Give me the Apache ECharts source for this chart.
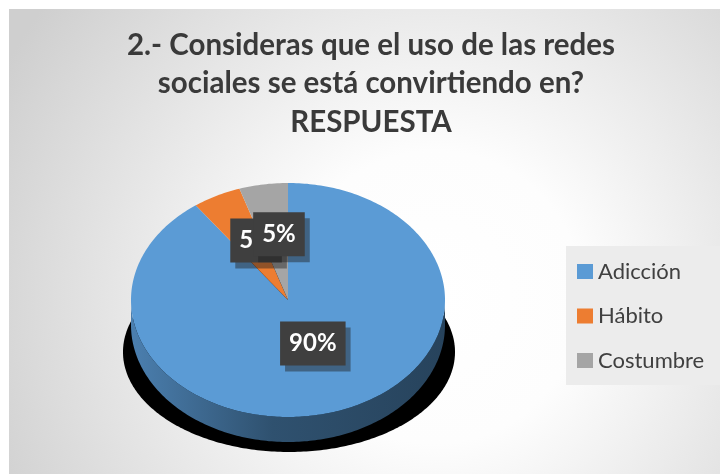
<!DOCTYPE html>
<html>
<head>
<meta charset="utf-8">
<script src="https://cdn.jsdelivr.net/npm/echarts@6/dist/echarts.min.js"></script>
<style>
  html, body { margin: 0; padding: 0; background: #ffffff; }
  #chart { width: 720px; height: 474px; }
</style>
</head>
<body>
<div id="chart"></div>
<script>
// Survey answers and their shares
const categories = ['Adicción', 'Hábito', 'Costumbre'];
const values = [90, 5, 5];
const colors = ['#5B9BD5', '#ED7D31', '#A5A5A5'];
const titleLines = [
  '2.- Consideras que el uso de las redes',
  'sociales se está convirtiendo en?',
  'RESPUESTA'
];

const FONT = 'Lato, "Open Sans", sans-serif';
// Geometry of the tilted (elliptical) pie with a visible rim
const PIE = { cx: 288, cy: 300, rx: 157, ry: 117, depth: 25 };

const total = values.reduce((a, b) => a + b, 0);
const starts = [];
values.reduce((acc, v) => { starts.push(acc); return acc + v; }, 0);

// darken a hex colour by a factor (0..1)
function shade(hex, k) {
  const c = echarts.color.parse(hex);
  return 'rgb(' + [0, 1, 2].map(j => Math.round(c[j] * k)).join(',') + ')';
}

// angle measured clockwise from 12 o'clock
function pt(theta, dy) {
  return [PIE.cx + PIE.rx * Math.sin(theta), PIE.cy + (dy || 0) - PIE.ry * Math.cos(theta)];
}
function arc(a, b, dy) {
  const pts = [];
  const n = Math.max(2, Math.ceil((b - a) / (Math.PI / 180)));
  for (let k = 0; k <= n; k++) pts.push(pt(a + (b - a) * k / n, dy));
  return pts;
}
function ellipse(cx, cy, rx, ry) {
  const pts = [];
  for (let k = 0; k < 360; k++) {
    const t = k * Math.PI / 180;
    pts.push([cx + rx * Math.sin(t), cy - ry * Math.cos(t)]);
  }
  return pts;
}

function renderSlice(idx) {
  return function (params, api) {
    const v = api.value(0);
    const a = starts[idx] / total * 2 * Math.PI;
    const b = (starts[idx] + v) / total * 2 * Math.PI;
    const color = colors[idx];
    const children = [];

    if (idx === 0) {
      // drop shadow under the whole pie
      children.push({
        type: 'polygon', z2: 0, silent: true,
        shape: { points: ellipse(PIE.cx + 1, PIE.cy + 52, PIE.rx + 9, PIE.ry - 17) },
        style: { fill: '#000000' }
      });
    }

    // rim: only the front (lower) half of the pie is visible
    const s = Math.max(a, Math.PI / 2), e = Math.min(b, 3 * Math.PI / 2);
    if (e > s) {
      const top = arc(s, e, 0);
      const bot = arc(s, e, PIE.depth).reverse();
      children.push({
        type: 'polygon', z2: 1,
        shape: { points: top.concat(bot) },
        style: {
          fill: new echarts.graphic.LinearGradient(PIE.cx - PIE.rx, 0, PIE.cx + PIE.rx, 0, [
            { offset: 0, color: shade(color, 0.82) },
            { offset: 0.45, color: shade(color, 0.52) },
            { offset: 1, color: shade(color, 0.43) }
          ], true)
        }
      });
    }

    // top face
    children.push({
      type: 'polygon', z2: 2,
      shape: { points: [[PIE.cx, PIE.cy]].concat(arc(a, b, 0)) },
      style: { fill: color }
    });

    // percentage label, placed inside the slice (tilted view shifts it slightly right)
    const share = v / total;
    const mid = (a + b) / 2;
    const big = share > 0.5;
    const fx = big ? 0.45 : 0.49;
    const fy = big ? 0.39 : 0.57;
    const lx = PIE.cx + 3 + PIE.rx * fx * Math.sin(mid);
    const ly = PIE.cy - PIE.ry * fy * Math.cos(mid);
    const text = Math.round(share * 100) + '%';
    const base = {
      text: text,
      font: 'bold 24px ' + FONT,
      lineHeight: 24,
      align: 'center', verticalAlign: 'middle',
      textAlign: 'center', textVerticalAlign: 'middle',
      padding: [10, 9, 10, 9]
    };
    children.push({
      type: 'text', z2: 10 + idx * 2, x: lx + 5, y: ly + 6,
      style: Object.assign({}, base, { fill: 'rgba(0,0,0,0)', backgroundColor: 'rgba(30,30,30,0.45)' })
    });
    children.push({
      type: 'text', z2: 11 + idx * 2, x: lx, y: ly,
      style: Object.assign({}, base, { fill: '#ffffff', backgroundColor: '#3f3f3f' })
    });

    return { type: 'group', children: children };
  };
}

const series = categories.map((name, idx) => ({
  type: 'custom',
  name: name,
  coordinateSystem: 'none',
  itemStyle: { color: colors[idx] },
  data: [values[idx]],
  renderItem: renderSlice(idx)
}));

const chart = echarts.init(document.getElementById('chart'), null, { renderer: 'canvas' });
chart.setOption({
  animation: false,
  graphic: [
    {
      type: 'rect', z: -10, silent: true,
      shape: { x: 9, y: 9, width: 711, height: 465 },
      style: {
        fill: {
          type: 'radial', x: 0.6, y: 0.62, r: 1.05,
          colorStops: [
            { offset: 0, color: '#ffffff' },
            { offset: 0.3, color: '#fdfdfd' },
            { offset: 1, color: '#cfcfcf' }
          ]
        }
      }
    },
    {
      type: 'rect', z: -5, silent: true,
      shape: { x: 566, y: 246, width: 154, height: 139 },
      style: { fill: '#ececec' }
    }
  ],
  title: {
    text: titleLines.join('\n'),
    left: 371,
    top: 26,
    padding: 0,
    textAlign: 'center',
    textStyle: {
      fontFamily: FONT,
      fontSize: 29.5,
      fontWeight: 'bold',
      lineHeight: 38.5,
      color: '#3a3a3a'
    }
  },
  legend: {
    orient: 'vertical',
    left: 577,
    top: 260,
    padding: 0,
    itemGap: 21.5,
    itemWidth: 16,
    itemHeight: 15,
    icon: 'rect',
    data: categories,
    textStyle: { fontFamily: FONT, fontSize: 22, lineHeight: 23, color: '#404040' }
  },
  series: series
});
</script>
</body>
</html>
